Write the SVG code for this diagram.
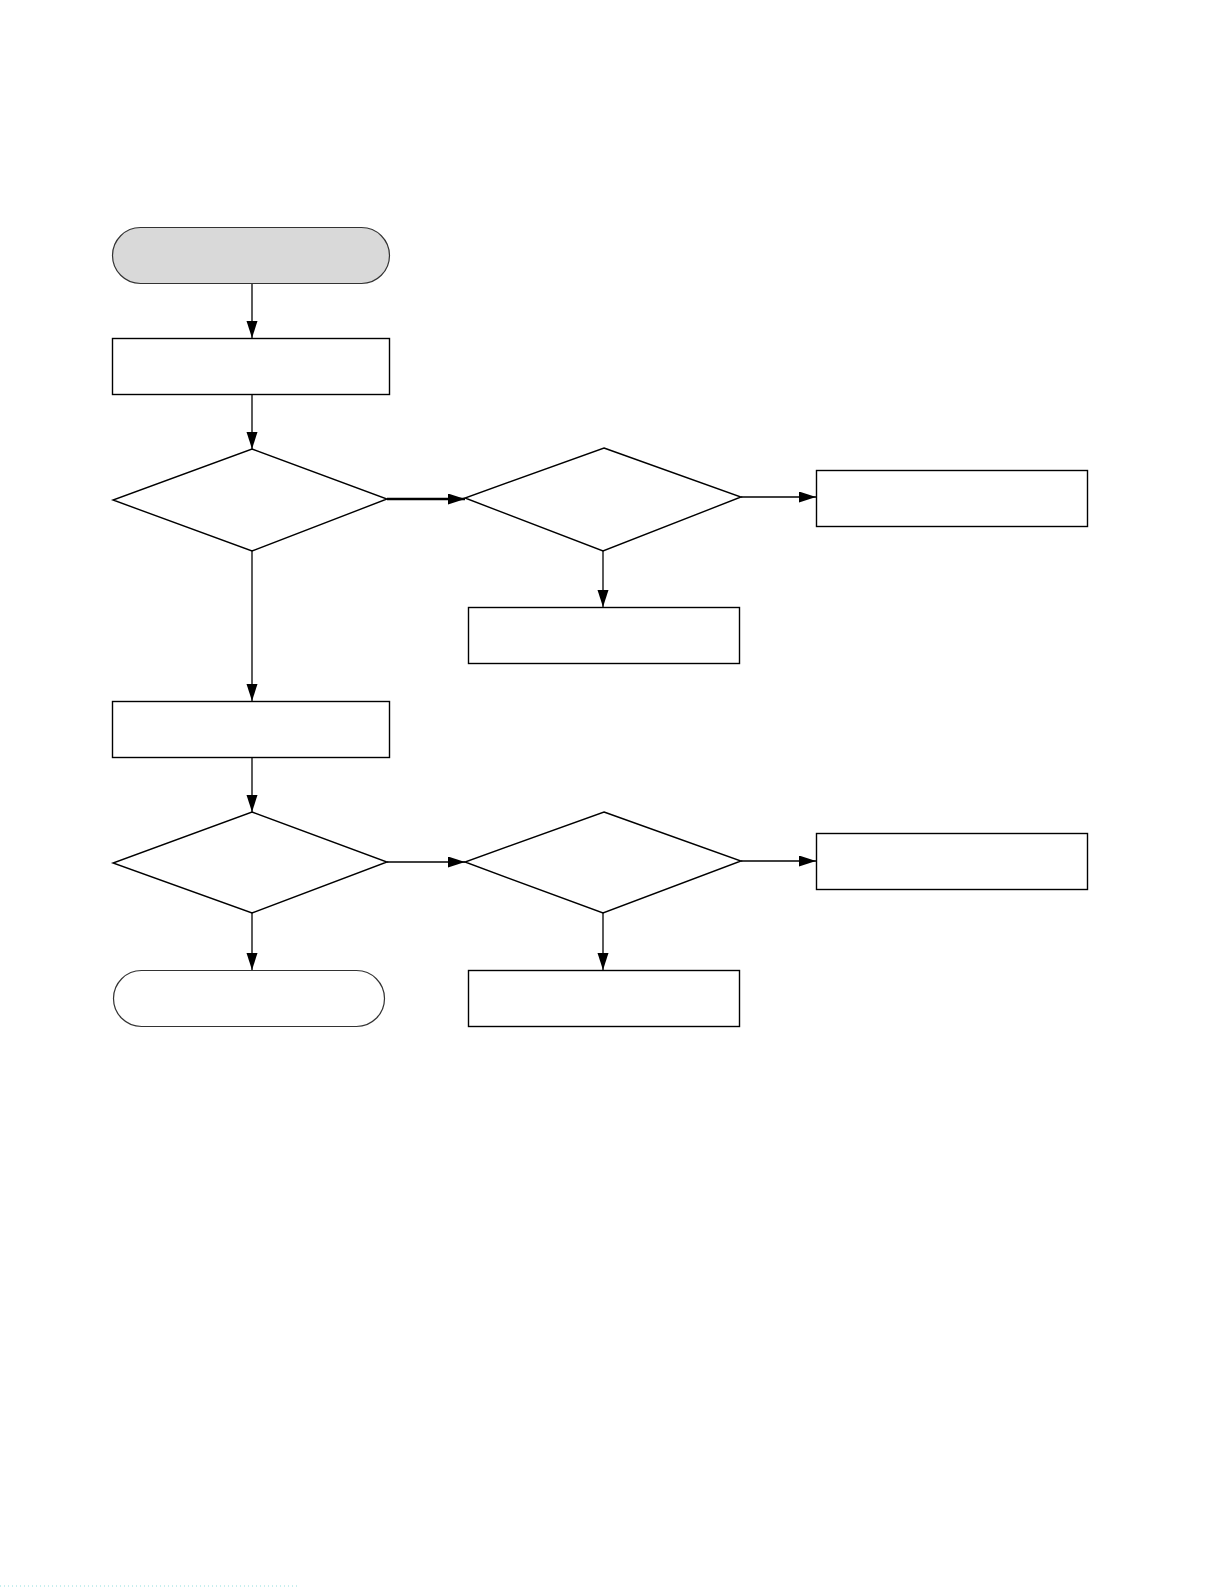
<svg xmlns="http://www.w3.org/2000/svg" width="1219" height="1587" viewBox="0 0 1219 1587">
<style>
.n{fill:#fff;stroke:#000;stroke-width:1.4}
.t{stroke:#333;stroke-width:1.2}
.c{stroke:#000;stroke-width:1.3;fill:none;marker-end:url(#ah)}
</style>
<defs>
<marker id="ah" markerUnits="userSpaceOnUse" markerWidth="18" markerHeight="12" refX="17" refY="5.5" orient="auto">
<path d="M0,0 L17,5.5 L0,11 Z" fill="#000"/>
</marker>
</defs>
<rect width="1219" height="1587" fill="#fff"/>
<g id="start"><rect class="n t" x="112.5" y="227.5" width="277" height="56" rx="28" style="fill:#d9d9d9"/></g>
<g id="box1"><rect class="n" x="112.5" y="338.5" width="277" height="56"/></g>
<g id="dec1"><polygon class="n" points="252,449 387,499 252,551 113,500"/></g>
<g id="dec2"><polygon class="n" points="604,448 741,497 603,551 465,498"/></g>
<g id="boxR1"><rect class="n" x="816.5" y="470.5" width="271" height="56"/></g>
<g id="boxD2"><rect class="n" x="468.5" y="607.5" width="271" height="56"/></g>
<g id="box2"><rect class="n" x="112.5" y="701.5" width="277" height="56"/></g>
<g id="dec3"><polygon class="n" points="252,812 387,862 252,913 113,863"/></g>
<g id="dec4"><polygon class="n" points="604,812 741,861 603,913 465,862"/></g>
<g id="boxR2"><rect class="n" x="816.5" y="833.5" width="271" height="56"/></g>
<g id="end"><rect class="n t" x="113.5" y="970.5" width="271" height="56" rx="28"/></g>
<g id="boxD4"><rect class="n" x="468.5" y="970.5" width="271" height="56"/></g>
<g id="connectors">
<line class="c" x1="252" y1="284" x2="252" y2="338"/>
<line class="c" x1="252" y1="395" x2="252" y2="449"/>
<line class="c" x1="387" y1="499" x2="465" y2="499" style="stroke-width:2.4"/>
<line class="c" x1="741" y1="497" x2="816" y2="497"/>
<line class="c" x1="603" y1="551" x2="603" y2="607"/>
<line class="c" x1="252" y1="551" x2="252" y2="701"/>
<line class="c" x1="252" y1="758" x2="252" y2="812"/>
<line class="c" x1="387" y1="862" x2="465" y2="862"/>
<line class="c" x1="741" y1="861" x2="816" y2="861"/>
<line class="c" x1="603" y1="913" x2="603" y2="970"/>
<line class="c" x1="252" y1="913" x2="252" y2="970"/>
</g>
<line x1="0" y1="1586" x2="300" y2="1586" stroke="#8fdede" stroke-width="1" stroke-dasharray="1 3"/>
</svg>
